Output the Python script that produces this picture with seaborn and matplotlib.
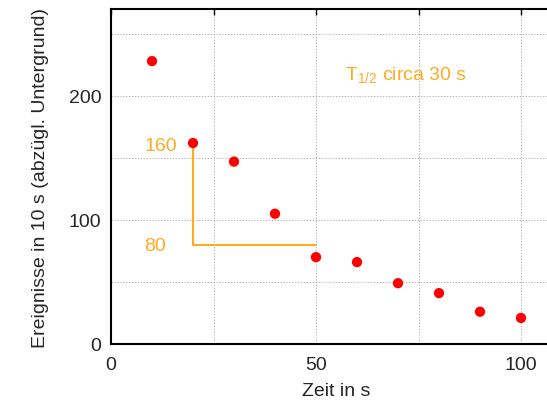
import matplotlib
matplotlib.use("Agg")
import matplotlib.pyplot as plt
import seaborn as sns
import pandas as pd

zeit = [10, 20, 30, 40, 50, 60, 70, 80, 90, 100]
ereignisse = [228, 162, 147, 105, 70, 66, 49, 41, 26, 21]

halbwert_x = [20, 20, 50]
halbwert_y = [162, 80, 80]

sns.set_style("white")
plt.rcParams['font.family'] = ['Liberation Sans', 'DejaVu Sans']

orange = '#FFAA22'

df = pd.DataFrame({'Zeit': zeit, 'Ereignisse': ereignisse})

fig = plt.figure(figsize=(5.47, 4.10), dpi=100)
# axes runs past the right edge on purpose (reference is cropped there)
ax = fig.add_axes([111 / 547, 65 / 410, 110 * 4.1 / 547, 335 / 410])

ax.plot(halbwert_x, halbwert_y, color=orange, lw=1.5, zorder=2)
sns.scatterplot(data=df, x='Zeit', y='Ereignisse', color='red', s=55,
                edgecolor='none', zorder=3, ax=ax)

ax.set_xlim(0, 110)
ax.set_ylim(0, 270)
ax.set_xticks([0, 50, 100])
ax.set_xticks([25, 75], minor=True)
ax.set_yticks([0, 100, 200])
ax.set_yticks([50, 150, 250], minor=True)

ax.grid(True, which='both', color='#a0a0a0', linestyle=(0, (1.5, 2)), lw=0.6)
ax.tick_params(which='both', direction='in', length=4, width=1, color='black',
               top=True, right=True, labelsize=14)
ax.tick_params(axis='x', pad=9)
ax.tick_params(axis='y', pad=7)
for s in ax.spines.values():
    s.set_color('black')
    s.set_linewidth(1.5)

ax.set_xlabel('Zeit in s', fontsize=14, labelpad=6)
ax.set_ylabel('Ereignisse in 10 s (abzügl. Untergrund)', fontsize=14, labelpad=14)

ax.text(12.1, 160, '160', color=orange, fontsize=14, ha='center', va='center')
ax.text(10.7, 79, '80', color=orange, fontsize=14, ha='center', va='center')
ax.text(57, 217, r'T$_{\mathregular{1/2}}$ circa 30 s', color=orange, fontsize=14,
        ha='left', va='center')

fig.savefig('out.png', dpi=100)
